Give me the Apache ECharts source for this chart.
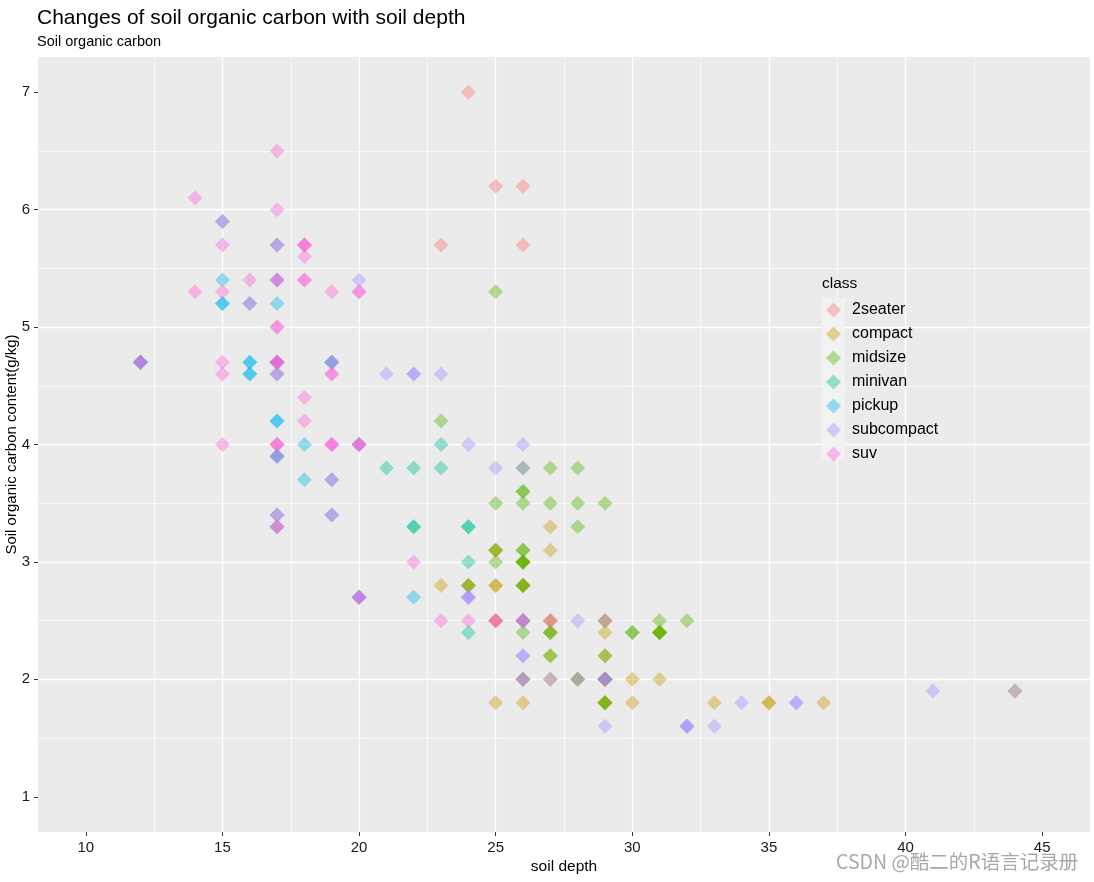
<!DOCTYPE html>
<html>
<head>
<meta charset="utf-8">
<script src="https://cdn.jsdelivr.net/npm/echarts@6/dist/echarts.min.js"></script>
<style>html,body{margin:0;padding:0;background:#fff}#chart{width:1094px;height:882px}</style>
</head>
<body>
<div id="chart"></div>
<script>
// Categories
const classes = ['2seater','compact','midsize','minivan','pickup','subcompact','suv'];
const classColors = ['rgba(248,118,109,0.5)','rgba(196,154,0,0.5)','rgba(83,180,0,0.5)','rgba(0,192,148,0.5)','rgba(0,182,235,0.5)','rgba(165,138,255,0.5)','rgba(251,97,215,0.5)'];
// Tick labels
const xTicks = [10,15,20,25,30,35,40,45];
const yTicks = [1,2,3,4,5,6,7];
// Series values: [soil depth, soil organic carbon]
const seater2 = [[26,5.7],[23,5.7],[26,6.2],[25,6.2],[24,7.0]];
const compact = [[29,1.8],[29,1.8],[31,2.0],[30,2.0],[26,2.8],[26,2.8],[27,3.1],
  [26,1.8],[25,1.8],[28,2.0],[27,2.0],[25,2.8],[25,2.8],[25,3.1],[25,3.1],
  [29,2.4],[27,2.4],[25,2.5],[27,2.5],[25,2.5],[27,2.5],
  [27,2.2],[29,2.2],[31,2.4],[31,2.4],[26,3.0],[26,3.0],[27,3.3],
  [30,1.8],[33,1.8],[35,1.8],[37,1.8],[35,1.8],
  [29,2.0],[26,2.0],[29,2.0],[29,2.0],[24,2.8],
  [44,1.9],[29,2.0],[26,2.0],[29,2.0],[29,2.0],[29,2.5],[29,2.5],[23,2.8],[24,2.8]];
const midsize = [[24,2.8],[25,3.1],[23,4.2],
  [27,2.4],[30,2.4],[26,3.1],[29,3.5],[26,3.6],
  [26,2.4],[27,2.4],[30,2.4],[31,2.4],[26,2.5],[26,2.5],[28,3.3],
  [31,2.5],[32,2.5],[27,3.5],[26,3.5],
  [26,3.0],[25,3.0],[25,3.5],
  [26,3.1],[26,3.8],[27,3.8],[28,3.8],[25,5.3],
  [29,2.2],[27,2.2],[31,2.4],[31,2.4],[26,3.0],[26,3.0],[28,3.5],
  [29,1.8],[29,1.8],[28,2.0],[29,2.0],[26,2.8],[26,2.8],[26,3.6]];
const minivan = [[24,2.4],[24,3.0],[22,3.3],[22,3.3],[24,3.3],[24,3.3],[17,3.3],[22,3.8],[21,3.8],[23,3.8],[23,4.0]];
const pickup = [[19,3.7],[18,3.7],[17,3.9],[17,3.9],[19,4.7],[19,4.7],[12,4.7],[17,5.2],[15,5.2],
  [16,4.7],[12,4.7],[17,4.7],[17,4.7],[16,4.7],[12,4.7],[15,5.2],[16,5.2],[17,5.7],[15,5.9],
  [17,4.2],[17,4.2],[16,4.6],[16,4.6],[17,4.6],[15,5.4],[17,5.4],
  [20,2.7],[20,2.7],[22,2.7],[17,3.4],[19,3.4],[18,4.0],[20,4.0]];
const subcompact = [[26,3.8],[25,3.8],[26,4.0],[24,4.0],[21,4.6],[22,4.6],[23,4.6],[22,4.6],[20,5.4],
  [33,1.6],[32,1.6],[32,1.6],[29,1.6],[32,1.6],[34,1.8],[36,1.8],[36,1.8],[29,2.0],
  [26,2.0],[29,2.0],[28,2.0],[27,2.0],[24,2.7],[24,2.7],[24,2.7],
  [26,2.2],[26,2.2],[26,2.5],[26,2.5],
  [44,1.9],[41,1.9],[29,2.0],[26,2.0],[28,2.5],[29,2.5]];
const suv = [[20,5.3],[15,5.3],[20,5.3],[17,5.7],[17,6.0],
  [19,5.3],[14,5.3],[15,5.7],[17,6.5],
  [17,3.9],[17,4.7],[12,4.7],[17,4.7],[16,5.2],[18,5.7],[15,5.9],
  [17,4.6],[17,5.4],[18,5.4],
  [17,4.0],[19,4.0],[17,4.0],[19,4.0],[19,4.6],[17,5.0],
  [22,3.0],[19,3.7],[20,4.0],[17,4.7],[12,4.7],[19,4.7],[18,5.7],[14,6.1],
  [15,4.0],[18,4.2],[18,4.4],[15,4.6],
  [17,5.4],[16,5.4],[18,5.4],
  [17,4.0],[19,4.0],[19,4.6],[17,5.0],
  [17,3.3],[17,3.3],[20,4.0],[18,5.6],
  [25,2.5],[24,2.5],[27,2.5],[25,2.5],[26,2.5],[23,2.5],
  [20,2.7],[20,2.7],[19,3.4],[17,3.4],[20,4.0],[17,4.7],
  [15,4.7],[18,5.7]];
const classData = [seater2, compact, midsize, minivan, pickup, subcompact, suv];

const FONT = 'Liberation Sans, Arial, sans-serif';
const chart = echarts.init(document.getElementById('chart'), null, {renderer: 'canvas'});

function axisCommon(ticks) {
  return {
    type: 'value',
    axisLine: {show: false},
    axisTick: {show: true, length: 4, lineStyle: {color: '#333', width: 1}, customValues: ticks},
    axisLabel: {customValues: ticks, fontSize: 15, color: '#1a1a1a', fontFamily: FONT},
    splitLine: {show: true, showMinLine: false, showMaxLine: false, lineStyle: {color: '#ffffff', width: 1.4}},
    minorTick: {show: false, splitNumber: 2},
    minorSplitLine: {show: true, lineStyle: {color: '#ffffff', width: 0.7}},
    nameLocation: 'middle',
    nameMoveOverlap: false,
    nameTextStyle: {fontSize: 15.5, color: '#000', fontFamily: FONT, verticalAlign: 'middle'}
  };
}

const xAxis = Object.assign(axisCommon(xTicks), {min: 8.25, max: 46.75, splitNumber: 8, name: 'soil depth', nameGap: 35});
xAxis.axisLabel.margin = 8;
const yAxis = Object.assign(axisCommon(yTicks), {min: 0.7, max: 7.3, splitNumber: 6, name: 'Soil organic carbon content(g/kg)', nameGap: 26});
yAxis.axisLabel.margin = 8;
yAxis.nameTextStyle.fontSize = 15;

const option = {
  animation: false,
  backgroundColor: '#ffffff',
  title: [
    {text: 'Changes of soil organic carbon with soil depth', left: 37, top: 8, padding: 0,
     textStyle: {fontSize: 21, fontWeight: 'normal', color: '#000', fontFamily: FONT}},
    {text: 'Soil organic carbon', left: 37, top: 34, padding: 0,
     textStyle: {fontSize: 14.5, fontWeight: 'normal', color: '#000', fontFamily: FONT}}
  ],
  grid: {left: 38, right: 4, top: 57, bottom: 50, show: true, backgroundColor: '#EBEBEB', borderWidth: 0, outerBoundsMode: 'none', containLabel: false},
  xAxis: xAxis,
  yAxis: yAxis,
  legend: {
    data: classes, orient: 'vertical', left: 826, top: 302, padding: 0,
    icon: 'diamond', itemWidth: 15, itemHeight: 15, itemGap: 8,
    formatter: function (n) { return '{t|' + n + '}'; },
    textStyle: {fontSize: 16, color: '#000', fontFamily: FONT,
      rich: {t: {fontSize: 16, color: '#000', fontFamily: FONT, padding: [0, 0, 0, 6]}}},
    selectedMode: false
  },
  graphic: [
    {type: 'rect', shape: {x: 822, y: 298, width: 23, height: 161}, style: {fill: '#F2F2F2'}, z: 3, silent: true},
    {type: 'text', x: 822, y: 284, style: {text: 'class', fontSize: 15.5, fill: '#000', fontFamily: FONT, textVerticalAlign: 'middle'}, z: 3},
    {type: 'text', x: 836, y: 862, style: {text: 'CSDN @酷二的R语言记录册', fontSize: 19.5, fill: '#a8a8a8', fontFamily: 'Noto Sans CJK SC', textVerticalAlign: 'middle'}, z: 10}
  ],
  series: classes.map((c, i) => ({
    name: c, type: 'scatter', data: classData[i],
    symbol: 'diamond', symbolSize: 15,
    itemStyle: {color: classColors[i]},
    emphasis: {disabled: true}
  }))
};
chart.setOption(option);
</script>
</body>
</html>
